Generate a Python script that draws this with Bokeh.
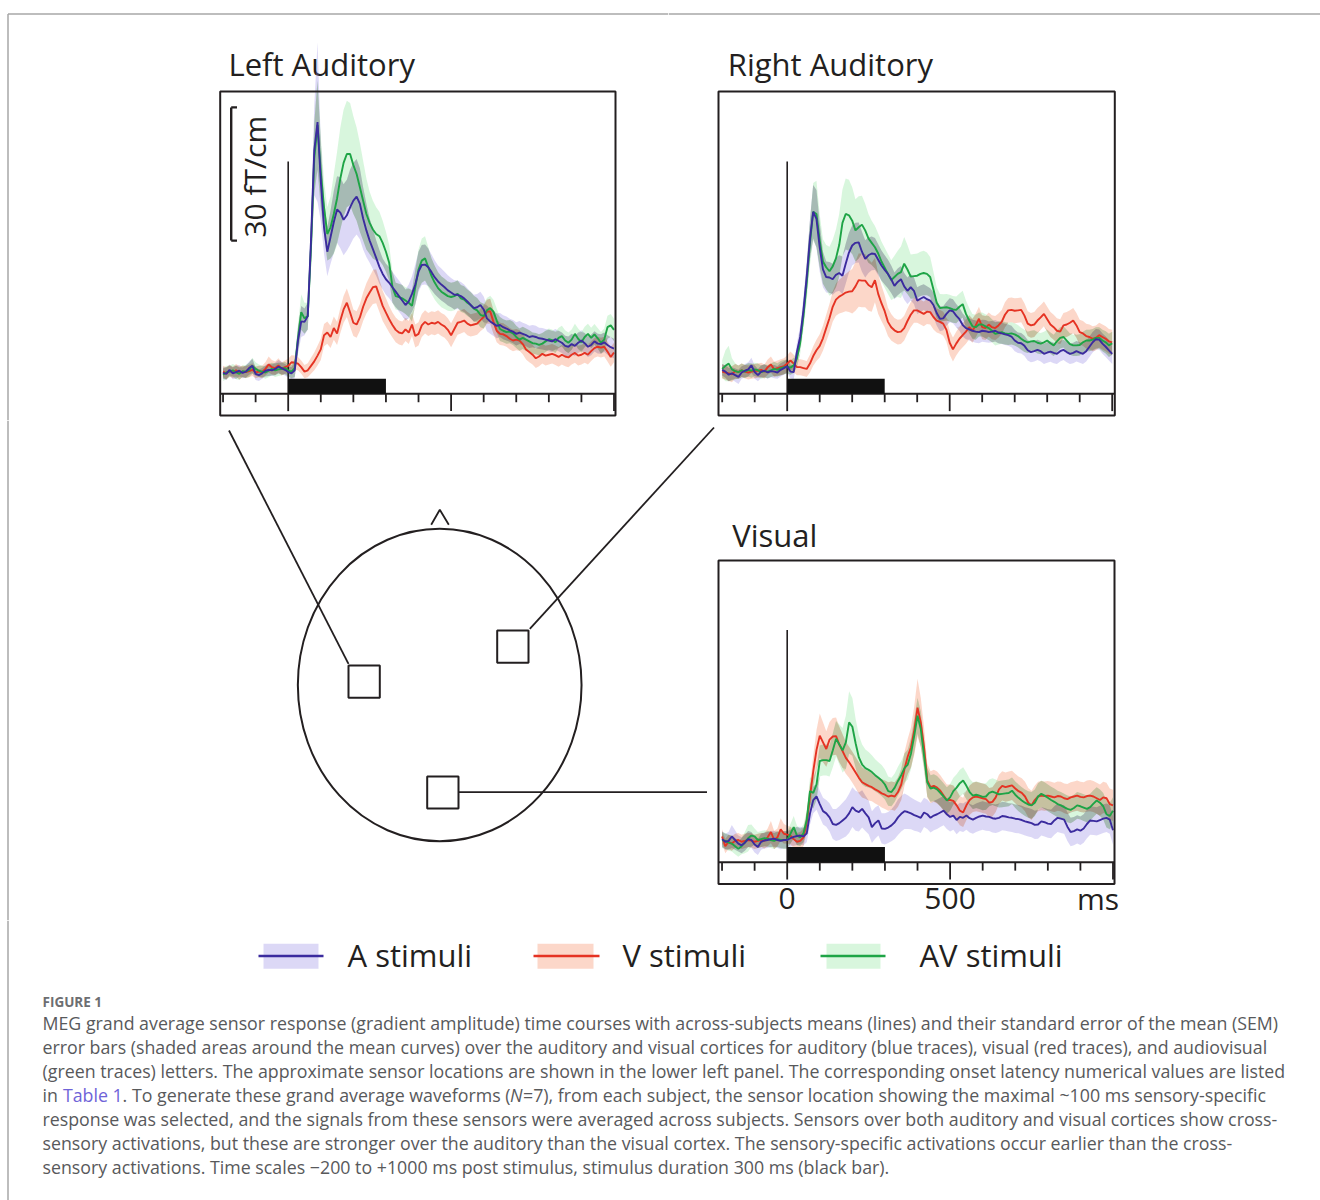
import numpy as np
from math import pi
from bokeh.plotting import figure
from bokeh.models import Range1d
from bokeh.layouts import column, row
from bokeh.embed import file_html
from bokeh.resources import INLINE
from bokeh.core.properties import value

# ---------------- data ----------------
TIME = list(range(-200, 1001, 10))          # ms
TICKS = list(range(-200, 1001, 100))         # ms
MAJOR_TICKS = [0, 500, 1000]
TICK_LABEL_VALUES = [0, 500]
TICK_LABELS = ["0", "500"]
TIME_UNIT = "ms"
STIM_ON, STIM_OFF = 0, 300
SCALE_BAR = 30                               # fT/cm
SCALE_LABEL = "30 fT/cm"
PANEL_TITLES = ["Left Auditory", "Right Auditory", "Visual"]
SERIES = ["A stimuli", "V stimuli", "AV stimuli"]

LA_A = [4.7,4.5,5.4,4.6,4.9,5.2,4.7,5.0,5.8,6.3,
        4.5,4.2,4.6,5.2,5.4,5.3,5.6,6.1,5.8,5.4,
        4.9,4.6,5.3,12.0,16.3,16.2,17.5,34.5,54.8,61.2,
        48.0,37.5,32.0,35.3,38.7,41.5,40.8,39.2,40.2,42.0,
        43.5,44.4,42.8,39.5,36.8,34.5,32.6,30.6,28.6,27.0,
        25.8,25.0,24.0,23.0,22.0,21.0,20.0,20.8,22.5,24.6,
        27.5,29.0,29.1,28.5,27.4,26.2,25.3,24.6,24.0,23.3,
        22.8,22.3,22.3,22.0,21.5,20.8,20.0,19.3,19.5,20.0,
        19.0,17.0,16.3,15.8,15.3,15.5,15.0,14.7,14.3,14.0,
        13.5,13.8,13.5,13.2,12.8,13.0,12.8,12.5,12.4,12.2,
        12.0,11.8,12.3,11.9,11.5,10.8,10.6,11.2,10.8,11.5,
        12.0,11.4,10.6,11.0,11.8,11.3,11.2,11.6,11.0,10.5,
        10.2]
LA_A_SEM = [1.3,1.4,1.2,1.3,1.5,1.3,1.2,1.4,1.5,1.6,
            1.4,1.3,1.2,1.3,1.4,1.3,1.4,1.5,1.4,1.3,
            1.3,1.4,1.8,3.0,3.5,3.0,3.0,5.0,10.0,18.0,
            9.0,6.0,5.5,6.0,7.0,7.5,8.0,8.0,8.0,8.5,
            8.5,8.5,8.0,7.0,6.0,5.0,4.5,4.0,3.8,3.5,
            3.5,3.5,3.5,3.5,3.5,3.5,3.5,3.8,4.0,4.5,
            4.5,4.5,4.5,4.2,4.0,3.8,3.6,3.6,3.5,3.4,
            3.3,3.3,3.2,3.2,3.1,3.0,3.0,3.0,3.0,3.0,
            2.9,2.9,2.8,2.8,2.8,2.7,2.7,2.7,2.6,2.6,
            2.6,2.6,2.5,2.5,2.5,2.5,2.5,2.4,2.4,2.4,
            2.4,2.4,2.3,2.3,2.3,2.3,2.3,2.3,2.3,2.3,
            2.3,2.3,2.3,2.3,2.3,2.2,2.2,2.2,2.2,2.2,
            2.2]
LA_AV = [4.3,4.8,5.0,5.3,4.8,4.5,5.1,5.0,5.4,6.3,
         5.6,5.2,5.0,4.8,5.2,5.6,5.3,5.5,5.6,5.8,
         5.3,5.0,5.8,12.5,18.4,17.0,17.5,33.0,53.0,60.5,
         50.0,42.0,36.0,37.5,40.5,44.0,48.5,52.0,54.0,54.0,
         51.5,49.5,46.5,43.5,40.5,38.5,37.0,36.0,35.5,34.0,
         32.0,29.5,24.0,22.0,21.8,21.5,21.0,20.5,19.8,24.0,
         28.0,30.0,30.5,28.5,26.5,25.0,23.8,23.0,22.5,22.0,
         21.8,22.0,22.5,21.5,21.2,20.5,20.0,19.2,18.8,17.8,
         17.5,18.8,19.3,18.5,16.5,14.6,14.2,13.9,14.0,13.6,
         12.8,12.2,12.6,12.2,11.8,11.4,11.3,11.0,11.3,11.8,
         12.3,12.1,11.6,12.6,13.0,12.0,11.5,12.2,13.5,12.4,
         11.6,12.8,13.5,12.6,13.4,12.5,11.5,12.2,15.0,15.4,
         14.4]
LA_AV_SEM = [1.4,1.5,1.3,1.4,1.5,1.4,1.3,1.5,1.6,1.8,
             1.5,1.4,1.3,1.4,1.5,1.4,1.5,1.5,1.4,1.4,
             1.4,1.5,2.0,3.0,4.0,3.5,3.0,5.0,8.0,10.0,
             8.0,6.0,6.0,7.0,9.0,10.5,11.5,12.0,12.0,11.5,
             11.0,10.5,10.0,9.0,8.0,7.0,6.5,6.0,5.5,5.0,
             4.5,4.0,3.5,3.0,3.0,3.0,3.0,3.2,3.5,4.0,
             4.5,5.0,5.0,4.5,4.0,3.8,3.6,3.5,3.4,3.3,
             3.2,3.2,3.1,3.0,3.0,3.0,2.9,2.9,2.8,2.8,
             2.8,2.8,2.8,2.7,2.7,2.7,2.6,2.6,2.6,2.6,
             2.5,2.5,2.5,2.5,2.5,2.4,2.4,2.4,2.4,2.4,
             2.4,2.4,2.4,2.3,2.3,2.3,2.3,2.3,2.3,2.3,
             2.3,2.3,2.3,2.3,2.3,2.3,2.4,2.5,2.6,2.6,
             2.5]
LA_V = [5.0,4.6,5.2,4.8,5.3,4.7,5.0,4.9,5.1,5.4,
        4.8,5.0,4.9,5.6,6.6,6.0,5.8,6.4,5.6,6.0,
        6.3,7.1,7.0,6.8,6.0,5.0,5.3,6.3,7.3,8.6,
        10.0,13.2,13.8,12.8,14.8,13.6,16.5,19.0,20.5,18.3,
        16.0,15.6,17.2,19.6,21.5,22.8,24.0,24.2,22.0,19.8,
        18.3,16.8,15.5,14.4,13.8,13.6,14.5,13.8,15.6,13.0,
        13.5,15.4,16.2,15.6,16.0,15.8,16.2,15.6,15.2,14.4,
        13.2,14.6,16.0,16.2,16.5,15.8,15.4,15.6,15.8,16.6,
        17.3,18.5,18.6,16.2,14.2,13.5,13.4,13.0,12.4,12.0,
        12.2,12.0,11.2,10.0,9.4,8.8,8.0,8.4,9.0,8.6,
        8.8,9.0,8.7,8.3,8.8,8.4,8.2,8.8,9.2,8.6,
        8.8,9.2,8.8,9.6,10.3,10.6,10.4,10.6,9.5,8.3,
        9.3]
LA_V_SEM = [1.3,1.4,1.3,1.3,1.4,1.5,1.3,1.3,1.4,1.4,
            1.3,1.3,1.4,1.5,1.8,1.6,1.5,1.6,1.5,1.5,
            1.6,1.6,1.6,1.5,1.5,1.5,1.6,1.8,2.0,2.2,
            2.4,2.5,2.5,2.5,2.6,2.6,2.8,3.0,3.2,3.2,
            3.0,3.0,3.0,3.2,3.4,3.6,3.8,3.8,3.6,3.4,
            3.2,3.0,2.8,2.8,2.7,2.7,2.6,2.6,2.6,2.6,
            2.6,2.6,2.6,2.6,2.6,2.6,2.6,2.6,2.6,2.6,
            2.7,2.7,2.7,2.6,2.6,2.6,2.5,2.5,2.5,2.5,
            2.6,2.7,2.8,2.7,2.6,2.5,2.5,2.4,2.4,2.4,
            2.4,2.3,2.3,2.3,2.3,2.2,2.2,2.2,2.2,2.2,
            2.2,2.2,2.2,2.2,2.2,2.2,2.2,2.2,2.2,2.2,
            2.2,2.2,2.2,2.2,2.2,2.2,2.2,2.2,2.2,2.2,
            2.2]

RA_A = [5.4,5.0,4.3,4.6,4.2,3.8,4.8,5.2,5.5,6.4,
        4.9,4.2,5.0,5.2,4.8,5.1,5.0,4.8,5.4,5.8,
        6.2,5.0,4.9,9.5,12.8,18.8,26.3,34.9,41.0,39.4,
        33.0,28.0,26.3,26.2,25.8,26.8,27.2,26.6,29.3,31.8,
        33.4,34.0,34.1,32.0,30.4,31.2,31.6,31.5,30.2,28.9,
        27.9,27.0,25.8,24.3,25.2,25.8,24.2,23.2,24.0,23.2,
        21.0,21.4,21.8,21.3,21.0,20.0,18.2,16.9,17.0,18.0,
        18.8,18.6,17.6,16.8,15.5,14.8,14.5,14.2,14.0,13.9,
        14.2,14.1,13.9,14.0,14.2,13.8,13.6,13.4,13.2,12.9,
        12.0,11.5,11.4,10.8,9.8,9.4,9.6,9.9,9.6,9.0,
        9.3,9.5,9.2,9.0,9.6,9.9,9.4,9.0,9.2,9.6,
        9.3,9.0,9.6,10.6,11.6,12.3,12.2,11.3,10.6,9.8,
        9.0]
RA_A_SEM = [1.3,1.4,1.5,1.4,1.5,1.6,1.4,1.5,1.6,1.7,
            1.5,1.4,1.4,1.5,1.4,1.4,1.5,1.4,1.5,1.5,
            1.5,1.5,1.6,2.0,2.5,3.0,3.5,4.5,6.0,6.5,
            5.5,4.0,3.5,3.5,3.5,3.8,4.0,4.2,4.5,4.5,
            4.5,4.5,4.5,4.5,4.2,4.0,3.8,3.6,3.5,3.4,
            3.3,3.2,3.1,3.0,3.0,3.0,3.0,3.0,3.0,3.0,
            3.0,3.0,2.9,2.9,2.8,2.8,2.8,2.8,2.7,2.7,
            2.7,2.7,2.6,2.6,2.6,2.5,2.5,2.5,2.5,2.5,
            2.5,2.5,2.4,2.4,2.4,2.4,2.4,2.4,2.4,2.4,
            2.4,2.3,2.3,2.3,2.3,2.3,2.3,2.3,2.3,2.3,
            2.3,2.3,2.3,2.3,2.3,2.3,2.3,2.3,2.3,2.3,
            2.3,2.3,2.3,2.3,2.3,2.3,2.3,2.3,2.3,2.3,
            2.3]
RA_AV = [5.6,6.3,6.8,5.5,5.1,4.9,5.3,5.0,5.4,5.2,
         5.5,5.3,4.9,5.1,5.0,5.3,5.6,5.4,5.8,6.0,
         6.1,5.9,6.4,8.0,11.5,17.5,25.0,34.0,41.0,40.5,
         34.5,29.8,28.5,27.6,28.7,30.5,33.5,38.5,40.5,40.2,
         39.0,36.8,37.5,38.1,36.8,35.0,34.0,33.0,31.6,29.8,
         28.4,27.0,25.6,26.3,27.0,27.4,29.3,28.0,26.4,26.5,
         26.6,27.0,27.2,27.0,26.3,23.5,20.5,19.3,19.4,19.5,
         19.3,19.0,18.9,19.6,20.2,18.0,16.5,15.2,15.0,15.6,
         15.6,15.2,14.8,14.2,13.5,13.7,13.9,13.6,13.5,13.6,
         13.4,13.0,12.4,11.9,11.6,11.8,11.9,11.5,11.3,11.6,
         12.0,11.4,10.9,11.8,12.6,12.8,12.0,11.2,10.9,10.9,
         11.0,11.6,12.0,12.0,12.2,12.6,12.6,12.0,11.6,10.9,
         11.4]
RA_AV_SEM = [2.0,3.5,4.0,2.5,1.8,1.5,1.5,1.5,1.5,1.6,
             1.5,1.5,1.5,1.5,1.5,1.5,1.6,1.5,1.6,1.6,
             1.6,1.6,1.7,2.0,2.5,3.0,4.0,5.0,6.5,7.5,
             6.0,5.0,5.0,5.5,6.0,6.5,7.0,7.5,8.0,8.0,
             7.5,7.0,7.0,6.5,6.0,5.5,5.0,4.8,4.5,4.5,
             4.5,4.5,4.5,4.8,5.2,5.8,6.0,5.5,5.0,5.0,
             5.0,5.0,5.0,4.8,4.5,4.0,3.5,3.2,3.0,3.0,
             3.0,3.0,3.0,3.0,3.0,3.0,2.8,2.8,2.8,2.7,
             2.7,2.7,2.7,2.6,2.6,2.6,2.6,2.5,2.5,2.5,
             2.5,2.5,2.5,2.5,2.4,2.4,2.4,2.4,2.4,2.4,
             2.4,2.4,2.4,2.4,2.4,2.4,2.4,2.4,2.4,2.4,
             2.4,2.4,2.4,2.4,2.4,2.4,2.4,2.4,2.5,2.6,
             2.6]
RA_V = [5.0,4.8,4.6,4.4,5.1,4.9,5.3,5.0,4.8,5.0,
        5.1,5.2,5.4,5.0,6.0,6.6,5.5,5.8,6.0,6.2,
        6.8,7.5,6.8,6.0,6.0,5.8,5.6,6.8,8.5,9.8,
        10.8,12.5,14.8,17.0,19.6,21.2,21.9,22.3,22.8,23.0,
        23.1,24.2,25.6,25.5,25.5,24.5,24.0,25.6,22.5,20.4,
        18.6,16.2,15.0,14.3,13.9,14.0,14.8,16.4,17.8,18.8,
        18.8,18.4,18.0,18.5,18.4,17.3,16.5,16.2,15.8,14.4,
        11.5,10.0,11.3,12.4,13.2,14.0,15.0,14.2,15.4,16.9,
        15.0,14.8,15.6,15.0,14.8,15.4,16.2,17.8,18.8,18.9,
        18.7,18.8,18.9,17.6,15.8,15.4,15.6,16.5,17.2,18.0,
        16.8,15.6,15.0,14.2,14.0,15.4,15.6,16.0,16.5,15.4,
        13.9,13.6,13.0,12.8,12.4,12.6,13.2,12.8,12.4,11.8,
        11.6]
RA_V_SEM = [1.6,1.6,1.7,1.8,1.6,1.5,1.5,1.5,1.6,1.6,
            1.6,1.6,1.6,1.6,1.7,1.8,1.7,1.7,1.8,1.8,
            1.9,2.0,2.0,1.8,1.8,1.8,1.8,2.0,2.2,2.4,
            2.6,2.8,3.0,3.2,3.4,3.6,3.8,4.0,4.2,4.6,
            5.0,5.5,6.0,6.0,6.0,5.8,5.5,5.0,4.5,4.0,
            3.6,3.2,3.0,2.8,2.8,2.8,2.8,2.8,2.8,2.8,
            2.8,2.8,2.8,2.8,2.8,2.8,2.7,2.7,2.7,2.7,
            2.7,2.7,2.7,2.7,2.7,2.7,2.7,2.7,2.7,2.7,
            2.7,2.7,2.7,2.7,2.7,2.7,2.7,2.8,2.8,2.8,
            2.8,2.8,2.8,2.8,2.8,2.8,2.8,2.8,2.8,2.8,
            2.8,2.8,2.8,2.8,2.8,2.8,2.8,2.8,2.8,2.8,
            2.8,2.8,2.8,2.8,2.8,2.8,2.8,2.8,2.8,2.8,
            2.8]

V_A = [5.2,4.6,4.8,5.8,5.0,4.2,3.8,4.4,5.2,5.0,
       4.0,3.4,4.6,4.9,5.0,5.2,5.3,5.0,4.8,5.0,
       5.0,5.4,5.7,5.9,6.0,5.8,6.5,11.0,14.0,14.8,
       13.1,11.5,11.0,10.1,8.6,8.4,8.8,9.4,10.0,11.0,
       12.4,11.6,11.3,12.0,11.0,10.1,7.9,8.8,9.4,7.6,
       7.5,7.8,8.3,9.0,10.1,10.9,11.5,11.3,11.0,10.6,
       10.3,10.0,11.2,10.8,10.0,10.5,10.8,11.2,11.6,10.8,
       10.2,10.5,9.5,10.2,10.0,10.5,9.9,9.6,10.0,10.3,
       10.5,10.3,10.2,9.9,9.8,10.0,10.4,10.3,10.1,10.0,
       9.8,9.7,9.5,9.2,9.0,8.8,8.4,8.5,9.2,9.0,
       8.7,8.6,9.4,10.0,9.8,9.6,8.0,6.8,7.0,7.4,
       7.1,7.6,8.6,9.4,9.3,9.2,9.5,9.8,10.0,9.6,
       7.2]
V_A_SEM = [1.8,1.8,2.0,2.6,2.2,1.8,1.8,1.8,1.8,1.8,
           1.8,1.8,1.8,1.8,1.8,1.8,1.8,1.8,1.9,1.9,
           1.9,1.9,2.0,2.0,2.0,2.0,2.0,2.5,3.0,3.0,
           3.0,3.0,3.0,3.2,3.4,3.6,3.8,4.0,4.2,4.4,
           4.5,4.5,4.4,4.2,4.0,3.8,3.6,3.5,3.4,3.4,
           3.5,3.5,3.6,3.8,4.0,4.0,4.0,3.8,3.6,3.5,
           3.4,3.4,3.3,3.3,3.3,3.3,3.3,3.3,3.3,3.3,
           3.3,3.2,3.2,3.2,3.2,3.2,3.2,3.2,3.2,3.2,
           3.2,3.2,3.2,3.2,3.2,3.2,3.2,3.2,3.2,3.2,
           3.2,3.2,3.2,3.2,3.2,3.2,3.2,3.2,3.2,3.2,
           3.2,3.2,3.2,3.2,3.2,3.2,3.2,3.2,3.2,3.2,
           3.2,3.2,3.2,3.2,3.2,3.2,3.2,3.2,3.2,3.2,
           3.2]
V_AV = [5.0,4.8,4.4,4.2,3.6,3.0,3.6,4.4,5.4,6.0,
        5.8,5.0,5.2,5.4,5.3,5.0,4.8,5.2,5.0,5.0,
        5.0,6.4,7.9,6.0,5.6,6.5,9.5,16.0,15.6,17.5,
        22.8,23.0,23.0,22.8,25.2,27.8,26.5,25.2,27.0,31.5,
        30.5,26.8,23.6,22.0,21.2,20.8,20.3,19.6,19.0,18.4,
        17.5,16.0,15.8,16.8,18.3,19.6,21.2,22.0,24.5,28.5,
        33.0,30.0,24.0,18.0,16.6,16.8,16.4,15.6,14.8,13.9,
        14.6,16.0,16.8,17.8,18.4,17.2,15.8,15.0,15.2,15.0,
        14.7,14.8,15.6,15.9,15.6,15.3,15.4,15.5,15.6,16.1,
        15.2,14.5,13.9,13.4,13.0,12.8,13.4,14.8,15.4,15.0,
        14.5,14.0,13.6,13.1,12.8,12.4,12.0,11.8,12.2,12.8,
        12.6,12.3,12.0,12.4,13.2,13.9,13.4,12.6,10.8,10.4,
        11.6]
V_AV_SEM = [1.8,1.8,1.8,1.8,1.8,1.8,1.8,2.4,3.0,2.5,
            1.8,1.8,1.8,1.8,1.8,1.8,1.8,1.8,1.8,2.0,
            2.0,2.2,2.5,2.2,2.0,2.0,2.2,3.0,3.5,3.5,
            3.5,3.5,3.5,3.5,3.8,4.0,4.5,5.0,6.0,7.0,
            6.5,5.5,5.0,4.5,4.2,4.0,3.8,3.6,3.5,3.5,
            3.4,3.3,3.2,3.2,3.2,3.2,3.3,3.4,3.5,3.8,
            4.0,4.0,3.5,3.2,3.0,3.0,3.0,3.0,3.0,3.0,
            3.0,3.0,3.0,3.0,3.0,3.0,3.0,3.0,3.0,3.0,
            3.0,3.0,3.0,3.0,3.0,3.0,3.0,3.0,3.0,3.0,
            3.0,3.0,3.0,3.0,3.0,3.0,3.0,3.0,3.0,3.0,
            3.0,3.0,3.0,3.0,3.0,3.0,3.0,3.0,3.0,3.0,
            3.0,3.0,3.0,3.0,3.0,3.0,3.0,3.0,3.0,3.0,
            3.0]
V_V = [5.8,3.6,4.6,4.2,4.8,5.0,4.6,4.8,5.0,4.9,
       4.6,4.8,5.0,4.8,5.6,6.8,5.0,5.6,7.4,6.4,
       6.2,6.0,5.2,4.6,4.8,5.6,9.0,14.8,20.5,25.3,
       28.5,27.0,25.5,27.6,28.3,28.4,26.5,25.0,23.5,22.5,
       21.4,20.2,19.0,18.0,17.6,17.2,16.9,16.4,16.0,15.5,
       15.2,14.8,15.0,14.8,15.8,17.5,21.0,23.8,25.9,29.7,
       34.8,31.5,25.9,18.4,16.9,17.2,16.8,16.1,15.0,14.0,
       14.0,13.8,12.8,11.6,11.2,12.8,14.0,14.6,14.8,14.6,
       14.4,14.2,13.4,13.6,14.6,16.4,17.2,16.9,17.1,17.3,
       16.6,16.0,15.6,14.8,13.4,12.8,14.0,14.8,15.0,14.9,
       15.0,14.8,14.6,14.9,14.8,14.4,14.2,14.6,14.8,15.0,
       14.7,14.6,14.9,15.0,14.8,14.4,14.0,14.6,14.4,13.1,
       12.8]
V_V_SEM = [1.6,1.6,1.6,1.6,1.6,1.6,1.6,1.6,1.6,1.6,
           1.6,1.6,1.6,1.7,2.0,2.5,2.0,2.0,2.5,2.2,
           2.0,2.0,2.0,2.0,2.0,2.0,2.2,2.8,3.5,4.5,
           5.0,4.5,4.0,4.0,4.2,4.2,4.0,3.8,3.6,3.5,
           3.5,3.5,3.5,3.4,3.3,3.3,3.2,3.2,3.2,3.2,
           3.2,3.2,3.2,3.2,3.3,3.5,3.8,4.0,4.5,5.5,
           6.5,5.5,4.5,3.8,3.6,3.6,3.6,3.5,3.5,3.5,
           3.5,3.5,3.4,3.3,3.3,3.3,3.3,3.3,3.3,3.3,
           3.3,3.3,3.3,3.3,3.3,3.3,3.3,3.3,3.3,3.3,
           3.3,3.3,3.3,3.3,3.3,3.3,3.3,3.3,3.3,3.3,
           3.3,3.3,3.3,3.3,3.3,3.3,3.4,3.4,3.4,3.4,
           3.4,3.4,3.5,3.5,3.5,3.5,3.5,3.5,3.5,3.5,
           3.5]

for arr in [LA_A, LA_A_SEM, LA_AV, LA_AV_SEM, LA_V, LA_V_SEM,
            RA_A, RA_A_SEM, RA_AV, RA_AV_SEM, RA_V, RA_V_SEM,
            V_A, V_A_SEM, V_AV, V_AV_SEM, V_V, V_V_SEM]:
    assert len(arr) == len(TIME), len(arr)

CAPTION_HEAD = "FIGURE 1"
CAPTION_LINES = [
    "MEG grand average sensor response (gradient amplitude) time courses with across-subjects means (lines) and their standard error of the mean (SEM)",
    "error bars (shaded areas around the mean curves) over the auditory and visual cortices for auditory (blue traces), visual (red traces), and audiovisual",
    "(green traces) letters. The approximate sensor locations are shown in the lower left panel. The corresponding onset latency numerical values are listed",
    None,
    "response was selected, and the signals from these sensors were averaged across subjects. Sensors over both auditory and visual cortices show cross-",
    "sensory activations, but these are stronger over the auditory than the visual cortex. The sensory-specific activations occur earlier than the cross-",
    "sensory activations. Time scales \u2212200 to +1000 ms post stimulus, stimulus duration 300 ms (black bar).",
]
CAPTION_LINE4 = [("in ", 42, "normal", "cap"), ("Table 1", 62.4, "normal", "link"),
                 (". To generate these grand average waveforms (", 122.1, "normal", "cap"),
                 ("N", 509.5, "italic", "cap"),
                 ("=7), from each subject, the sensor location showing the maximal ~100 ms sensory-specific", 522.5, "normal", "cap")]

# ---------------- style ----------------
FONT = "Open Sans"
INK = "#231f20"
A_LINE, V_LINE, AV_LINE = "#3b2b9e", "#e53323", "#1ea446"
A_BAND, V_BAND, AV_BAND = "#8a7fe0", "#f79a78", "#7ee08f"
A_ALPHA, V_ALPHA, AV_ALPHA = 0.30, 0.40, 0.30
BORDER = "#a7a7a7"
CAP_COLOR = "#58595b"
LINK_COLOR = "#6f63d8"
CAP_SIZE = 17.8
SHIFT = 0.4          # em: the svg text sits this much lower than the requested baseline

BASE = dict(output_backend="svg", toolbar_location=None, x_axis_location=None,
            y_axis_location=None, min_border=0, outline_line_color=None,
            background_fill_color="white", border_fill_color="white", title=None)

MINOR_LEN, MAJOR_LEN = 1.9, 3.9      # tick lengths (fT/cm units of the panel)
BAR_H = 3.4
ONSET_H = 52.3


def make_panel(left, top, w, h, x0, sx, y0, sy):
    tx = lambda px: (px - x0) / sx
    vy = lambda py: (y0 - py) / sy
    p = figure(width=w, height=h, x_range=Range1d(tx(left), tx(left + w)),
               y_range=Range1d(vy(top + h), vy(top)), **BASE)
    p.grid.visible = False
    return p, tx, vy


def draw_panel(p, tx, vy, box, title, title_pos, A, As, V, Vs, AV, AVs):
    t = np.array(TIME, dtype=float)
    A, As, V, Vs, AV, AVs = [np.array(a, dtype=float) for a in (A, As, V, Vs, AV, AVs)]
    p.text(x=[tx(title_pos[0])], y=[vy(title_pos[1] - SHIFT * 31)], text=[title], text_font=value(FONT),
           text_font_size="31px", text_color=INK, text_align="left", text_baseline="alphabetic")
    # SEM bands
    p.varea(x=t, y1=A - As, y2=A + As, fill_color=A_BAND, fill_alpha=A_ALPHA)
    p.varea(x=t, y1=V - Vs, y2=V + Vs, fill_color=V_BAND, fill_alpha=V_ALPHA)
    p.varea(x=t, y1=AV - AVs, y2=AV + AVs, fill_color=AV_BAND, fill_alpha=AV_ALPHA)
    # darker where bands overlap (multiply-like look of the original)
    for (m1, s1, m2, s2, col, al) in [(A, As, AV, AVs, "#6e6e64", 0.30),
                                      (V, Vs, AV, AVs, "#96785a", 0.25),
                                      (A, As, V, Vs, "#786e82", 0.15)]:
        lo = np.maximum(m1 - s1, m2 - s2)
        hi = np.maximum(np.minimum(m1 + s1, m2 + s2), lo)
        p.varea(x=t, y1=lo, y2=hi, fill_color=col, fill_alpha=al)
    # stimulus onset line
    p.segment(x0=[STIM_ON], y0=[0], x1=[STIM_ON], y1=[ONSET_H], line_color=INK, line_width=1.6)
    # mean curves
    p.line(t, V, line_color=V_LINE, line_width=1.9)
    p.line(t, AV, line_color=AV_LINE, line_width=1.9)
    p.line(t, A, line_color=A_LINE, line_width=1.9)
    # time axis inside the box
    bl, br, bt, bb = tx(box[0]), tx(box[1]), vy(box[2]), vy(box[3])
    p.segment(x0=[bl], y0=[0], x1=[br], y1=[0], line_color=INK, line_width=2)
    p.segment(x0=TICKS, y0=[0] * len(TICKS), x1=TICKS,
              y1=[-(MAJOR_LEN if k in MAJOR_TICKS else MINOR_LEN) for k in TICKS],
              line_color=INK, line_width=1.8)
    p.quad(left=[STIM_ON], right=[STIM_OFF], bottom=[0], top=[BAR_H], fill_color="#111111", line_color=None)
    p.quad(left=[bl], right=[br], bottom=[bb], top=[bt], fill_color=None, line_color=INK, line_width=2)


# ---------------- top row ----------------
pLA, txLA, vyLA = make_panel(0, 0, 668, 420, 287.7, 0.3258, 393.3, 4.44)
pLA.segment(x0=[txLA(7.5)], y0=[vyLA(13.5)], x1=[txLA(668)], y1=[vyLA(13.5)], line_color=BORDER, line_width=1.5)
pLA.segment(x0=[txLA(7.5)], y0=[vyLA(13.5)], x1=[txLA(7.5)], y1=[vyLA(420)], line_color=BORDER, line_width=1.5)
draw_panel(pLA, txLA, vyLA, (219.7, 615.0, 91.0, 415.0), PANEL_TITLES[0], (228, 75.5),
           LA_A, LA_A_SEM, LA_V, LA_V_SEM, LA_AV, LA_AV_SEM)
# scale bar
sb_x, sb_x2, sb_v0 = txLA(230.7), txLA(236.5), 34.5
pLA.segment(x0=[sb_x, sb_x, sb_x], y0=[sb_v0, sb_v0, sb_v0 + SCALE_BAR],
            x1=[sb_x, sb_x2, sb_x2], y1=[sb_v0 + SCALE_BAR, sb_v0, sb_v0 + SCALE_BAR],
            line_color=INK, line_width=2.4)
pLA.text(x=[txLA(266 - SHIFT * 30)], y=[sb_v0 + SCALE_BAR / 2 - 0.6], text=[SCALE_LABEL], angle=pi / 2,
         text_font=value(FONT), text_font_size="30px", text_color=INK,
         text_align="center", text_baseline="alphabetic")

pRA, txRA, vyRA = make_panel(668, 0, 652, 420, 786.7, 0.325, 393.3, 4.44)
pRA.segment(x0=[txRA(668)], y0=[vyRA(13.5)], x1=[txRA(1320)], y1=[vyRA(13.5)], line_color=BORDER, line_width=1.5)
draw_panel(pRA, txRA, vyRA, (718.0, 1114.3, 91.0, 415.0), PANEL_TITLES[1], (727.3, 75.5),
           RA_A, RA_A_SEM, RA_V, RA_V_SEM, RA_AV, RA_AV_SEM)

# ---------------- middle row ----------------
pH = figure(width=716, height=500, x_range=Range1d(0, 716), y_range=Range1d(920, 420), **BASE)
pH.grid.visible = False
pH.segment(x0=[7.5], y0=[420], x1=[7.5], y1=[920], line_color=BORDER, line_width=1.5)
pH.ellipse(x=[439.2], y=[684.5], width=[283.7], height=[312.4], fill_color=None, line_color=INK, line_width=2)
pH.line([430.7, 439.3, 448.3], [524.3, 509.3, 524.3], line_color=INK, line_width=1.8)
pH.quad(left=[348.0, 496.7, 426.7], right=[379.3, 528.0, 458.0], top=[665.0, 630.0, 776.0],
        bottom=[697.3, 662.3, 808.0], fill_color=None, line_color=INK, line_width=2)
pH.segment(x0=[228.5, 713.5, 458.0], y0=[430.0, 427.0, 791.7], x1=[348.0, 529.3, 706.5],
           y1=[663.3, 628.3, 791.7], line_color=INK, line_width=1.8)

pV, txV, vyV = make_panel(716, 420, 604, 500, 786.7, 0.3258, 861.7, 4.44)
draw_panel(pV, txV, vyV, (718.0, 1114.0, 560.0, 883.5), PANEL_TITLES[2], (731.7, 547.3),
           V_A, V_A_SEM, V_V, V_V_SEM, V_AV, V_AV_SEM)
pV.text(x=TICK_LABEL_VALUES, y=[vyV(910 - SHIFT * 30)] * len(TICK_LABEL_VALUES), text=TICK_LABELS,
        text_font=value(FONT), text_font_size="30px", text_color=INK,
        text_align="center", text_baseline="alphabetic")
pV.text(x=[1000], y=[vyV(910 - SHIFT * 30)], text=[TIME_UNIT], x_offset=6, text_font=value(FONT),
        text_font_size="30px", text_color=INK, text_align="right", text_baseline="alphabetic")

# ---------------- bottom: legend + caption ----------------
pB = figure(width=1320, height=280, x_range=Range1d(0, 1320), y_range=Range1d(1200, 920), **BASE)
pB.grid.visible = False
pB.segment(x0=[7.5], y0=[920], x1=[7.5], y1=[1200], line_color=BORDER, line_width=1.5)

leg_rect_l = [263, 537, 826]
leg_rect_r = [318, 593, 880]
leg_line_l = [258, 533, 820]
leg_line_r = [323, 599, 885]
leg_text_x = [347, 622, 919]
for i, (band, al, lc) in enumerate([(A_BAND, A_ALPHA, A_LINE), (V_BAND, V_ALPHA, V_LINE), (AV_BAND, AV_ALPHA, AV_LINE)]):
    pB.quad(left=[leg_rect_l[i]], right=[leg_rect_r[i]], top=[943.3], bottom=[968.3],
            fill_color=band, fill_alpha=al, line_color=None)
    pB.segment(x0=[leg_line_l[i]], y0=[955.5], x1=[leg_line_r[i]], y1=[955.5], line_color=lc, line_width=2.4)
pB.text(x=leg_text_x, y=[966.7 - SHIFT * 31] * 3, text=SERIES, text_font=value(FONT), text_font_size="31px",
        text_color=INK, text_align="left", text_baseline="alphabetic")

pB.text(x=[42], y=[1007.3 - SHIFT * 13.5], text=[CAPTION_HEAD], text_font=value(FONT), text_font_size="13.5px",
        text_font_style="bold", text_color="#6d6e71", text_align="left", text_baseline="alphabetic")
cap_y0, cap_dy = 1029.5, 24.0
for k, line in enumerate(CAPTION_LINES):
    y = cap_y0 + k * cap_dy - SHIFT * CAP_SIZE
    if line is None:
        for seg, x, style, kind in CAPTION_LINE4:
            pB.text(x=[x], y=[y], text=[seg], text_font=value(FONT), text_font_size=f"{CAP_SIZE}px",
                    text_font_style=style, text_color=(LINK_COLOR if kind == "link" else CAP_COLOR),
                    text_align="left", text_baseline="alphabetic")
    else:
        pB.text(x=[42], y=[y], text=[line], text_font=value(FONT), text_font_size=f"{CAP_SIZE}px",
                text_color=CAP_COLOR, text_align="left", text_baseline="alphabetic")

layout = column(row(pLA, pRA), row(pH, pV), pB)
open("out.html", "w").write(file_html(layout, INLINE, title="MEG grand average sensor responses"))
